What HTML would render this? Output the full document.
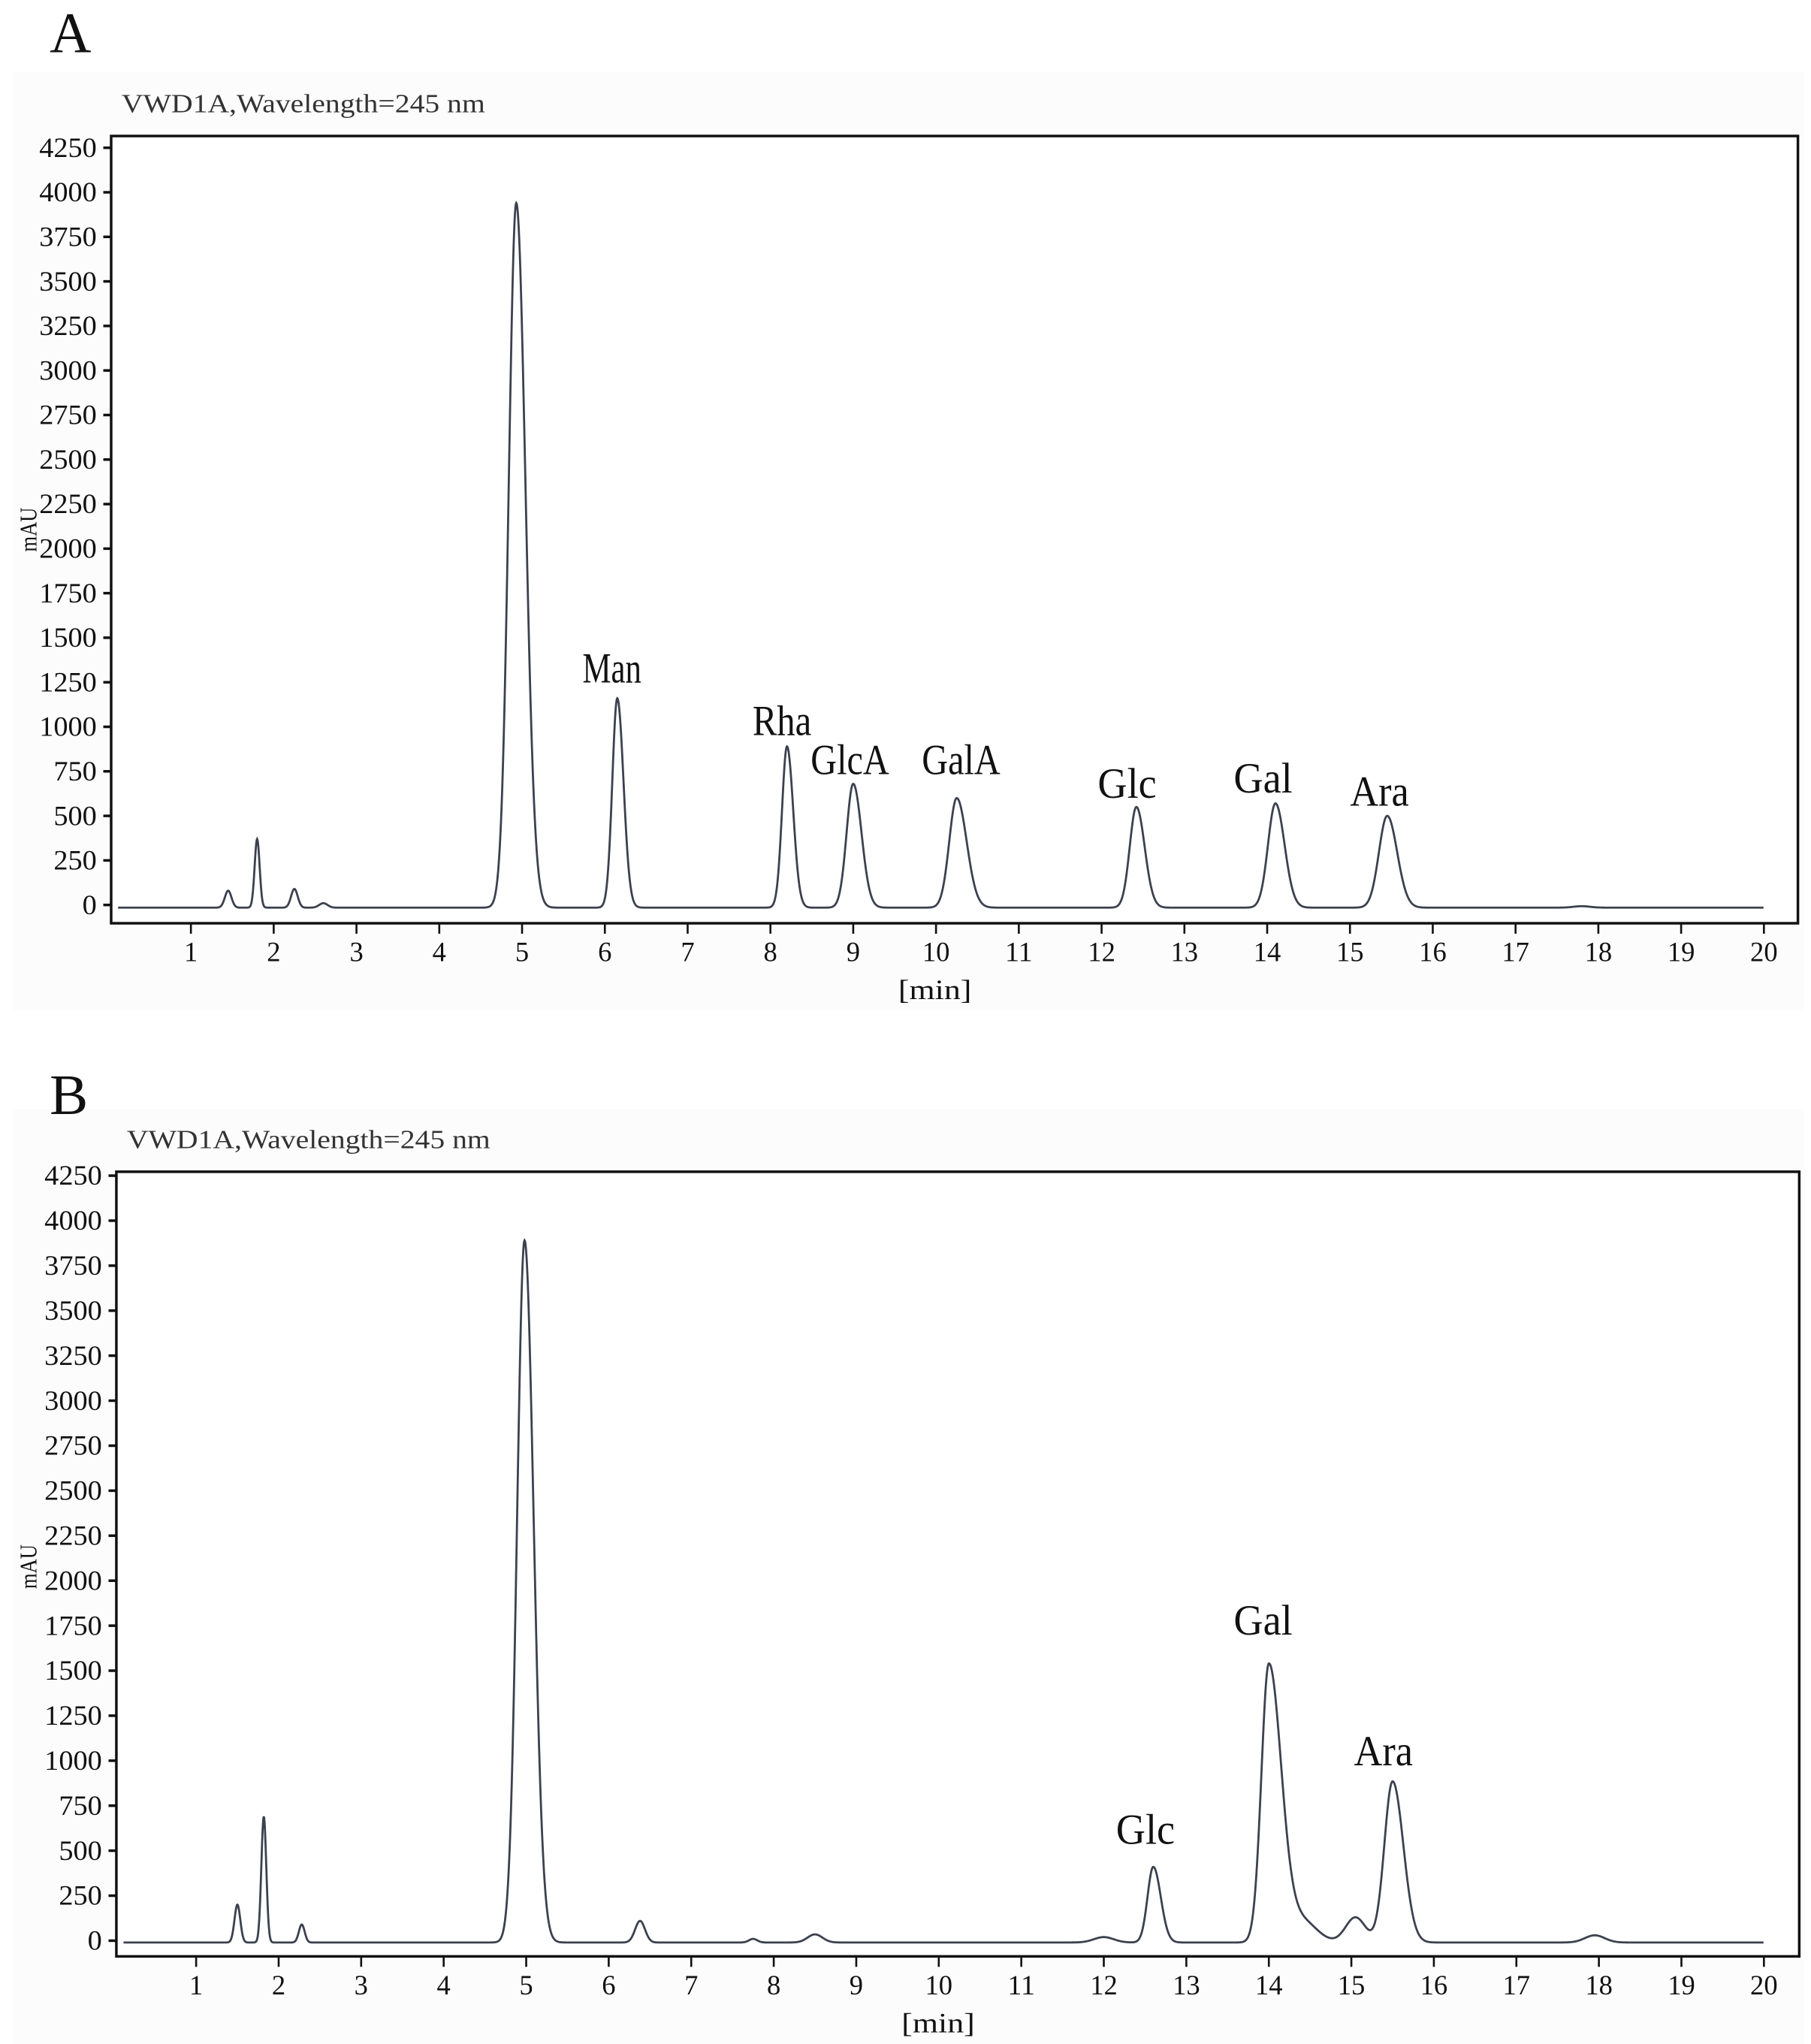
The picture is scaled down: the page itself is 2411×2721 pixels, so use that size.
<!DOCTYPE html>
<html><head><meta charset="utf-8"><style>
html,body{margin:0;padding:0;background:#fff;}
svg{display:block;}
text{font-family:"Liberation Serif",serif;fill:#111;}
</style></head><body>
<svg id="s" width="2411" height="2721" viewBox="0 0 1385 1563" preserveAspectRatio="none" xmlns="http://www.w3.org/2000/svg">
<rect x="0" y="0" width="1385" height="1563" fill="#fff"/>
<rect x="10" y="55" width="1370" height="718" fill="#fcfcfc"/>
<rect x="10" y="848" width="1370" height="715" fill="#fcfcfc"/>
<text x="38" y="40" font-size="44">A</text>
<text x="38" y="852" font-size="44">B</text>
<g id="g"></g>
</svg>
<script>
var g=document.getElementById('g');var NS='http://www.w3.org/2000/svg';
function el(t,a,txt){var e=document.createElementNS(NS,t);for(var k in a)e.setAttribute(k,a[k]);if(txt!=null)e.textContent=txt;g.appendChild(e);return e;}
function panel(P){
 var L=P.L,T=P.T,R=P.R,B=P.B,y0=P.y0,ytop=P.ytop,x1=P.x1,x20=P.x20;
 var py=(y0-ytop)/4250, pm=(x20-x1)/19, X0=x1-pm;
 el('text',{x:P.L+8,y:T-18,'font-size':20,textLength:278,lengthAdjust:'spacingAndGlyphs',style:'fill:#333'},'VWD1A,Wavelength=245 nm');
 el('rect',{x:L,y:T,width:R-L,height:B-T,fill:'#fff',stroke:'#111','stroke-width':2});
 for(var v=0;v<=4250;v+=250){var y=y0-v*py;el('line',{x1:L-6,y1:y,x2:L,y2:y,stroke:'#111','stroke-width':2});
  el('text',{x:L-11,y:y+7,'font-size':21,'text-anchor':'end',textLength:String(v).length*11,lengthAdjust:'spacingAndGlyphs'},String(v));}
 for(var m=1;m<=20;m++){var x=X0+m*pm;el('line',{x1:x,y1:B,x2:x,y2:B+8,stroke:'#111','stroke-width':1.5});
  el('text',{x:x,y:B+29,'font-size':21,'text-anchor':'middle',textLength:String(m).length*10.5,lengthAdjust:'spacingAndGlyphs'},String(m));}
 el('text',{x:(L+R)/2-15,y:B+58,'font-size':21,'text-anchor':'middle',textLength:56,lengthAdjust:'spacingAndGlyphs'},'[min]');
 el('text',{x:0,y:0,'font-size':18,transform:'translate(28,'+(P.my)+') rotate(-90)','text-anchor':'middle',textLength:34,lengthAdjust:'spacingAndGlyphs'},'mAU');
 var d='';
 for(var s=0.12;s<=20.0;s+=0.005){var v=P.base;for(var i=0;i<P.pk.length;i++){var p=P.pk[i];var sg=s<p[0]?p[2]:(p[3]||p[2]);var z=(s-p[0])/sg;v+=p[1]*Math.exp(-0.5*z*z);}
  d+=(d?'L':'M')+(X0+s*pm).toFixed(2)+' '+(y0-v*py).toFixed(2);}
 el('path',{d:d,fill:'none',stroke:'#3a4150','stroke-width':1.6});
 P.lab.forEach(function(l){el('text',{x:l[1],y:l[2],'font-size':33,'text-anchor':'middle',textLength:l[0].length*15,lengthAdjust:'spacingAndGlyphs'},l[0]);});
}
panel({L:85,T:104,R:1375,B:706,y0:692,ytop:113,x1:146,x20:1349,my:405,base:-15,
 pk:[[1.45,95,0.04],[1.8,385,0.03],[2.25,105,0.04],[2.6,25,0.05],[4.93,3955,0.09,0.11],[6.15,1175,0.06,0.075],[8.2,905,0.06,0.075],[9.0,695,0.08,0.1],[10.25,615,0.09,0.12],[12.42,565,0.08,0.1],[14.1,585,0.09,0.11],[15.45,515,0.1,0.12],[17.8,8,0.1]],
 lab:[['Man',468,522],['Rha',598,562],['GlcA',650,592],['GalA',735,592],['Glc',862,610],['Gal',966,606],['Ara',1055,616]]});
panel({L:89,T:896,R:1376,B:1496,y0:1484,ytop:899,x1:150,x20:1349,my:1198,base:-10,
 pk:[[1.5,210,0.035],[1.82,700,0.03],[2.28,100,0.035],[4.98,3900,0.09,0.11],[6.38,120,0.06],[7.75,20,0.05],[8.5,45,0.09],[12.0,30,0.12],[12.6,420,0.07,0.09],[14.0,1540,0.09,0.15],[14.4,120,0.18],[15.05,140,0.12],[15.5,895,0.1,0.13],[17.95,40,0.12]],
 lab:[['Glc',876,1410],['Gal',966,1250],['Ara',1058,1350]]});
</script>
</body></html>
